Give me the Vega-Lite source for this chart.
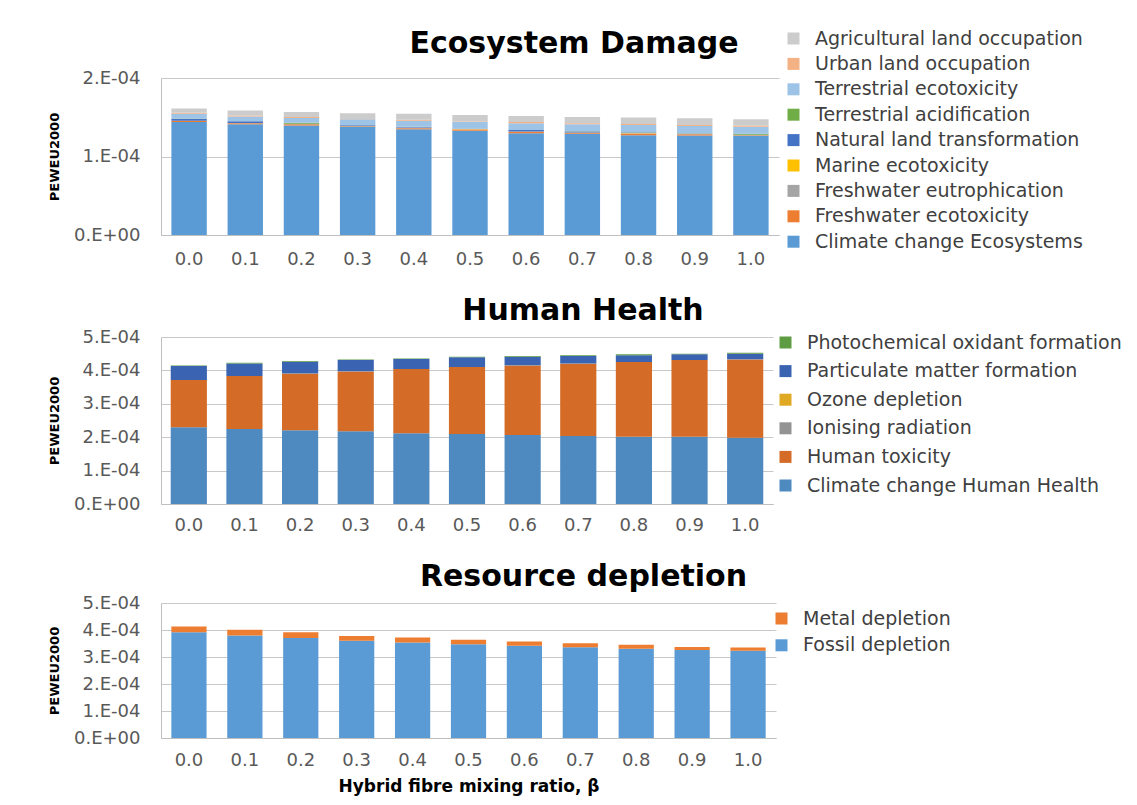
{
  "$schema": "https://vega.github.io/schema/vega-lite/v6.json",
  "background": "white",
  "padding": {"left": 48, "top": 29, "right": 5, "bottom": 5},
  "config": {
    "font": "DejaVu Sans",
    "view": {"stroke": null},
    "axis": {"labelFont": "DejaVu Sans", "labelFontSize": 18, "labelColor": "#595959", "gridColor": "#C8C8C8", "domainColor": "#BFBFBF", "ticks": false, "titleFont": "DejaVu Sans", "titleFontWeight": "bold", "titleColor": "#000000"},
    "legend": {"labelFont": "DejaVu Sans", "labelFontSize": 19, "labelColor": "#404040", "symbolType": "square", "symbolSize": 144, "symbolStrokeWidth": 0, "labelOffset": 12, "padding": 0, "title": null, "labelLimit": 400},
    "title": {"font": "DejaVu Sans", "fontSize": 30, "fontWeight": "bold", "color": "#000000", "anchor": "middle"}
  },
  "datasets": {
    "eco": [
      {"b":"0.0","c":"Climate change Ecosystems","o":1,"v":1.441e-4},{"b":"0.0","c":"Freshwater ecotoxicity","o":2,"v":0.013e-4},{"b":"0.0","c":"Freshwater eutrophication","o":3,"v":0.002e-4},{"b":"0.0","c":"Marine ecotoxicity","o":4,"v":0.001e-4},{"b":"0.0","c":"Natural land transformation","o":5,"v":0.025e-4},{"b":"0.0","c":"Terrestrial acidification","o":6,"v":0.002e-4},{"b":"0.0","c":"Terrestrial ecotoxicity","o":7,"v":0.059e-4},{"b":"0.0","c":"Urban land occupation","o":8,"v":0.013e-4},{"b":"0.0","c":"Agricultural land occupation","o":9,"v":0.055e-4},
      {"b":"0.1","c":"Climate change Ecosystems","o":1,"v":1.411e-4},{"b":"0.1","c":"Freshwater ecotoxicity","o":2,"v":0.013e-4},{"b":"0.1","c":"Freshwater eutrophication","o":3,"v":0.002e-4},{"b":"0.1","c":"Marine ecotoxicity","o":4,"v":0.001e-4},{"b":"0.1","c":"Natural land transformation","o":5,"v":0.021e-4},{"b":"0.1","c":"Terrestrial acidification","o":6,"v":0.002e-4},{"b":"0.1","c":"Terrestrial ecotoxicity","o":7,"v":0.059e-4},{"b":"0.1","c":"Urban land occupation","o":8,"v":0.013e-4},{"b":"0.1","c":"Agricultural land occupation","o":9,"v":0.063e-4},
      {"b":"0.2","c":"Climate change Ecosystems","o":1,"v":1.394e-4},{"b":"0.2","c":"Freshwater ecotoxicity","o":2,"v":0.017e-4},{"b":"0.2","c":"Freshwater eutrophication","o":3,"v":0.002e-4},{"b":"0.2","c":"Marine ecotoxicity","o":4,"v":0.001e-4},{"b":"0.2","c":"Natural land transformation","o":5,"v":0.004e-4},{"b":"0.2","c":"Terrestrial acidification","o":6,"v":0.013e-4},{"b":"0.2","c":"Terrestrial ecotoxicity","o":7,"v":0.059e-4},{"b":"0.2","c":"Urban land occupation","o":8,"v":0.013e-4},{"b":"0.2","c":"Agricultural land occupation","o":9,"v":0.063e-4},
      {"b":"0.3","c":"Climate change Ecosystems","o":1,"v":1.377e-4},{"b":"0.3","c":"Freshwater ecotoxicity","o":2,"v":0.004e-4},{"b":"0.3","c":"Freshwater eutrophication","o":3,"v":0.002e-4},{"b":"0.3","c":"Marine ecotoxicity","o":4,"v":0.001e-4},{"b":"0.3","c":"Natural land transformation","o":5,"v":0.013e-4},{"b":"0.3","c":"Terrestrial acidification","o":6,"v":0.002e-4},{"b":"0.3","c":"Terrestrial ecotoxicity","o":7,"v":0.076e-4},{"b":"0.3","c":"Urban land occupation","o":8,"v":0.004e-4},{"b":"0.3","c":"Agricultural land occupation","o":9,"v":0.072e-4},
      {"b":"0.4","c":"Climate change Ecosystems","o":1,"v":1.348e-4},{"b":"0.4","c":"Freshwater ecotoxicity","o":2,"v":0.013e-4},{"b":"0.4","c":"Freshwater eutrophication","o":3,"v":0.008e-4},{"b":"0.4","c":"Marine ecotoxicity","o":4,"v":0.001e-4},{"b":"0.4","c":"Natural land transformation","o":5,"v":0.006e-4},{"b":"0.4","c":"Terrestrial acidification","o":6,"v":0.002e-4},{"b":"0.4","c":"Terrestrial ecotoxicity","o":7,"v":0.076e-4},{"b":"0.4","c":"Urban land occupation","o":8,"v":0.013e-4},{"b":"0.4","c":"Agricultural land occupation","o":9,"v":0.076e-4},
      {"b":"0.5","c":"Climate change Ecosystems","o":1,"v":1.327e-4},{"b":"0.5","c":"Freshwater ecotoxicity","o":2,"v":0.017e-4},{"b":"0.5","c":"Freshwater eutrophication","o":3,"v":0.004e-4},{"b":"0.5","c":"Marine ecotoxicity","o":4,"v":0.001e-4},{"b":"0.5","c":"Natural land transformation","o":5,"v":0.004e-4},{"b":"0.5","c":"Terrestrial acidification","o":6,"v":0.002e-4},{"b":"0.5","c":"Terrestrial ecotoxicity","o":7,"v":0.089e-4},{"b":"0.5","c":"Urban land occupation","o":8,"v":0.004e-4},{"b":"0.5","c":"Agricultural land occupation","o":9,"v":0.080e-4},
      {"b":"0.6","c":"Climate change Ecosystems","o":1,"v":1.297e-4},{"b":"0.6","c":"Freshwater ecotoxicity","o":2,"v":0.017e-4},{"b":"0.6","c":"Freshwater eutrophication","o":3,"v":0.004e-4},{"b":"0.6","c":"Marine ecotoxicity","o":4,"v":0.001e-4},{"b":"0.6","c":"Natural land transformation","o":5,"v":0.017e-4},{"b":"0.6","c":"Terrestrial acidification","o":6,"v":0.002e-4},{"b":"0.6","c":"Terrestrial ecotoxicity","o":7,"v":0.084e-4},{"b":"0.6","c":"Urban land occupation","o":8,"v":0.017e-4},{"b":"0.6","c":"Agricultural land occupation","o":9,"v":0.076e-4},
      {"b":"0.7","c":"Climate change Ecosystems","o":1,"v":1.289e-4},{"b":"0.7","c":"Freshwater ecotoxicity","o":2,"v":0.013e-4},{"b":"0.7","c":"Freshwater eutrophication","o":3,"v":0.004e-4},{"b":"0.7","c":"Marine ecotoxicity","o":4,"v":0.001e-4},{"b":"0.7","c":"Natural land transformation","o":5,"v":0.013e-4},{"b":"0.7","c":"Terrestrial acidification","o":6,"v":0.002e-4},{"b":"0.7","c":"Terrestrial ecotoxicity","o":7,"v":0.089e-4},{"b":"0.7","c":"Urban land occupation","o":8,"v":0.013e-4},{"b":"0.7","c":"Agricultural land occupation","o":9,"v":0.080e-4},
      {"b":"0.8","c":"Climate change Ecosystems","o":1,"v":1.272e-4},{"b":"0.8","c":"Freshwater ecotoxicity","o":2,"v":0.017e-4},{"b":"0.8","c":"Freshwater eutrophication","o":3,"v":0.008e-4},{"b":"0.8","c":"Marine ecotoxicity","o":4,"v":0.001e-4},{"b":"0.8","c":"Natural land transformation","o":5,"v":0.008e-4},{"b":"0.8","c":"Terrestrial acidification","o":6,"v":0.002e-4},{"b":"0.8","c":"Terrestrial ecotoxicity","o":7,"v":0.093e-4},{"b":"0.8","c":"Urban land occupation","o":8,"v":0.013e-4},{"b":"0.8","c":"Agricultural land occupation","o":9,"v":0.084e-4},
      {"b":"0.9","c":"Climate change Ecosystems","o":1,"v":1.268e-4},{"b":"0.9","c":"Freshwater ecotoxicity","o":2,"v":0.017e-4},{"b":"0.9","c":"Freshwater eutrophication","o":3,"v":0.004e-4},{"b":"0.9","c":"Marine ecotoxicity","o":4,"v":0.001e-4},{"b":"0.9","c":"Natural land transformation","o":5,"v":0.004e-4},{"b":"0.9","c":"Terrestrial acidification","o":6,"v":0.002e-4},{"b":"0.9","c":"Terrestrial ecotoxicity","o":7,"v":0.093e-4},{"b":"0.9","c":"Urban land occupation","o":8,"v":0.013e-4},{"b":"0.9","c":"Agricultural land occupation","o":9,"v":0.084e-4},
      {"b":"1.0","c":"Climate change Ecosystems","o":1,"v":1.263e-4},{"b":"1.0","c":"Freshwater ecotoxicity","o":2,"v":0.008e-4},{"b":"1.0","c":"Freshwater eutrophication","o":3,"v":0.002e-4},{"b":"1.0","c":"Marine ecotoxicity","o":4,"v":0.001e-4},{"b":"1.0","c":"Natural land transformation","o":5,"v":0.002e-4},{"b":"1.0","c":"Terrestrial acidification","o":6,"v":0.013e-4},{"b":"1.0","c":"Terrestrial ecotoxicity","o":7,"v":0.089e-4},{"b":"1.0","c":"Urban land occupation","o":8,"v":0.017e-4},{"b":"1.0","c":"Agricultural land occupation","o":9,"v":0.080e-4}
    ],
    "hh": [
      {"b":"0.0","c":"Climate change Human Health","o":1,"v":2.295e-4},{"b":"0.0","c":"Human toxicity","o":2,"v":1.415e-4},{"b":"0.0","c":"Ionising radiation","o":3,"v":0.003e-4},{"b":"0.0","c":"Ozone depletion","o":4,"v":0.001e-4},{"b":"0.0","c":"Particulate matter formation","o":5,"v":0.416e-4},{"b":"0.0","c":"Photochemical oxidant formation","o":6,"v":0.02e-4},
      {"b":"0.1","c":"Climate change Human Health","o":1,"v":2.245e-4},{"b":"0.1","c":"Human toxicity","o":2,"v":1.585e-4},{"b":"0.1","c":"Ionising radiation","o":3,"v":0.003e-4},{"b":"0.1","c":"Ozone depletion","o":4,"v":0.001e-4},{"b":"0.1","c":"Particulate matter formation","o":5,"v":0.376e-4},{"b":"0.1","c":"Photochemical oxidant formation","o":6,"v":0.02e-4},
      {"b":"0.2","c":"Climate change Human Health","o":1,"v":2.205e-4},{"b":"0.2","c":"Human toxicity","o":2,"v":1.695e-4},{"b":"0.2","c":"Ionising radiation","o":3,"v":0.003e-4},{"b":"0.2","c":"Ozone depletion","o":4,"v":0.001e-4},{"b":"0.2","c":"Particulate matter formation","o":5,"v":0.356e-4},{"b":"0.2","c":"Photochemical oxidant formation","o":6,"v":0.02e-4},
      {"b":"0.3","c":"Climate change Human Health","o":1,"v":2.175e-4},{"b":"0.3","c":"Human toxicity","o":2,"v":1.795e-4},{"b":"0.3","c":"Ionising radiation","o":3,"v":0.003e-4},{"b":"0.3","c":"Ozone depletion","o":4,"v":0.001e-4},{"b":"0.3","c":"Particulate matter formation","o":5,"v":0.336e-4},{"b":"0.3","c":"Photochemical oxidant formation","o":6,"v":0.02e-4},
      {"b":"0.4","c":"Climate change Human Health","o":1,"v":2.115e-4},{"b":"0.4","c":"Human toxicity","o":2,"v":1.925e-4},{"b":"0.4","c":"Ionising radiation","o":3,"v":0.003e-4},{"b":"0.4","c":"Ozone depletion","o":4,"v":0.001e-4},{"b":"0.4","c":"Particulate matter formation","o":5,"v":0.296e-4},{"b":"0.4","c":"Photochemical oxidant formation","o":6,"v":0.02e-4},
      {"b":"0.5","c":"Climate change Human Health","o":1,"v":2.095e-4},{"b":"0.5","c":"Human toxicity","o":2,"v":2.005e-4},{"b":"0.5","c":"Ionising radiation","o":3,"v":0.003e-4},{"b":"0.5","c":"Ozone depletion","o":4,"v":0.001e-4},{"b":"0.5","c":"Particulate matter formation","o":5,"v":0.286e-4},{"b":"0.5","c":"Photochemical oxidant formation","o":6,"v":0.02e-4},
      {"b":"0.6","c":"Climate change Human Health","o":1,"v":2.065e-4},{"b":"0.6","c":"Human toxicity","o":2,"v":2.085e-4},{"b":"0.6","c":"Ionising radiation","o":3,"v":0.003e-4},{"b":"0.6","c":"Ozone depletion","o":4,"v":0.001e-4},{"b":"0.6","c":"Particulate matter formation","o":5,"v":0.256e-4},{"b":"0.6","c":"Photochemical oxidant formation","o":6,"v":0.02e-4},
      {"b":"0.7","c":"Climate change Human Health","o":1,"v":2.035e-4},{"b":"0.7","c":"Human toxicity","o":2,"v":2.165e-4},{"b":"0.7","c":"Ionising radiation","o":3,"v":0.003e-4},{"b":"0.7","c":"Ozone depletion","o":4,"v":0.001e-4},{"b":"0.7","c":"Particulate matter formation","o":5,"v":0.226e-4},{"b":"0.7","c":"Photochemical oxidant formation","o":6,"v":0.02e-4},
      {"b":"0.8","c":"Climate change Human Health","o":1,"v":2.015e-4},{"b":"0.8","c":"Human toxicity","o":2,"v":2.235e-4},{"b":"0.8","c":"Ionising radiation","o":3,"v":0.003e-4},{"b":"0.8","c":"Ozone depletion","o":4,"v":0.001e-4},{"b":"0.8","c":"Particulate matter formation","o":5,"v":0.196e-4},{"b":"0.8","c":"Photochemical oxidant formation","o":6,"v":0.03e-4},
      {"b":"0.9","c":"Climate change Human Health","o":1,"v":2.015e-4},{"b":"0.9","c":"Human toxicity","o":2,"v":2.295e-4},{"b":"0.9","c":"Ionising radiation","o":3,"v":0.003e-4},{"b":"0.9","c":"Ozone depletion","o":4,"v":0.001e-4},{"b":"0.9","c":"Particulate matter formation","o":5,"v":0.166e-4},{"b":"0.9","c":"Photochemical oxidant formation","o":6,"v":0.02e-4},
      {"b":"1.0","c":"Climate change Human Health","o":1,"v":1.985e-4},{"b":"1.0","c":"Human toxicity","o":2,"v":2.345e-4},{"b":"1.0","c":"Ionising radiation","o":3,"v":0.003e-4},{"b":"1.0","c":"Ozone depletion","o":4,"v":0.001e-4},{"b":"1.0","c":"Particulate matter formation","o":5,"v":0.166e-4},{"b":"1.0","c":"Photochemical oxidant formation","o":6,"v":0.03e-4}
    ],
    "res": [
      {"b":"0.0","c":"Fossil depletion","o":1,"v":3.92e-4},{"b":"0.0","c":"Metal depletion","o":2,"v":0.21e-4},
      {"b":"0.1","c":"Fossil depletion","o":1,"v":3.80e-4},{"b":"0.1","c":"Metal depletion","o":2,"v":0.21e-4},
      {"b":"0.2","c":"Fossil depletion","o":1,"v":3.70e-4},{"b":"0.2","c":"Metal depletion","o":2,"v":0.22e-4},
      {"b":"0.3","c":"Fossil depletion","o":1,"v":3.60e-4},{"b":"0.3","c":"Metal depletion","o":2,"v":0.18e-4},
      {"b":"0.4","c":"Fossil depletion","o":1,"v":3.54e-4},{"b":"0.4","c":"Metal depletion","o":2,"v":0.18e-4},
      {"b":"0.5","c":"Fossil depletion","o":1,"v":3.47e-4},{"b":"0.5","c":"Metal depletion","o":2,"v":0.17e-4},
      {"b":"0.6","c":"Fossil depletion","o":1,"v":3.42e-4},{"b":"0.6","c":"Metal depletion","o":2,"v":0.15e-4},
      {"b":"0.7","c":"Fossil depletion","o":1,"v":3.36e-4},{"b":"0.7","c":"Metal depletion","o":2,"v":0.15e-4},
      {"b":"0.8","c":"Fossil depletion","o":1,"v":3.31e-4},{"b":"0.8","c":"Metal depletion","o":2,"v":0.14e-4},
      {"b":"0.9","c":"Fossil depletion","o":1,"v":3.26e-4},{"b":"0.9","c":"Metal depletion","o":2,"v":0.11e-4},
      {"b":"1.0","c":"Fossil depletion","o":1,"v":3.23e-4},{"b":"1.0","c":"Metal depletion","o":2,"v":0.12e-4}
    ]
  },
  "spacing": 28,
  "resolve": {"scale": {"color": "independent", "x": "independent", "y": "independent"}, "legend": {"color": "independent"}},
  "vconcat": [
    {
      "data": {"name": "eco"},
      "width": 618,
      "height": 157,
      "title": {"text": "Ecosystem Damage", "dx": 104, "dy": 34},
      "mark": {"type": "bar"},
      "encoding": {
        "x": {"field": "b", "type": "nominal", "sort": null, "scale": {"paddingInner": 0.37, "paddingOuter": 0.185}, "axis": {"title": null, "labelAngle": 0, "labelPadding": 15, "grid": false}},
        "y": {"field": "v", "type": "quantitative", "stack": "zero", "scale": {"domain": [0, 0.0002], "nice": false}, "axis": {"values": [0, 0.0001, 0.0002], "title": "PEWEU2000", "titleFontSize": 13, "titlePadding": 12, "labelPadding": 21, "labelExpr": "datum.value == 0 ? '0.E+00' : round(datum.value*10000) + '.E-04'"}},
        "order": {"field": "o", "type": "quantitative", "sort": "ascending"},
        "color": {"field": "c", "type": "nominal", "scale": {"domain": ["Agricultural land occupation", "Urban land occupation", "Terrestrial ecotoxicity", "Terrestrial acidification", "Natural land transformation", "Marine ecotoxicity", "Freshwater eutrophication", "Freshwater ecotoxicity", "Climate change Ecosystems"], "range": ["#CCCCCC", "#F4B183", "#9DC3E6", "#70AD47", "#4472C4", "#FFC000", "#A5A5A5", "#ED7D31", "#5B9BD5"]}, "legend": {"orient": "none", "legendX": 623, "legendY": -49, "rowPadding": 5.4}}
      }
    },
    {
      "data": {"name": "hh"},
      "width": 612,
      "height": 167,
      "title": {"text": "Human Health", "dx": 116, "dy": 2},
      "mark": {"type": "bar"},
      "encoding": {
        "x": {"field": "b", "type": "nominal", "sort": null, "scale": {"paddingInner": 0.35, "paddingOuter": 0.175}, "axis": {"title": null, "labelAngle": 0, "labelPadding": 12, "grid": false}},
        "y": {"field": "v", "type": "quantitative", "stack": "zero", "scale": {"domain": [0, 0.0005], "nice": false}, "axis": {"values": [0, 0.0001, 0.0002, 0.0003, 0.0004, 0.0005], "title": "PEWEU2000", "titleFontSize": 13, "titlePadding": 12, "labelPadding": 21, "labelExpr": "datum.value == 0 ? '0.E+00' : round(datum.value*10000) + '.E-04'"}},
        "order": {"field": "o", "type": "quantitative", "sort": "ascending"},
        "color": {"field": "c", "type": "nominal", "scale": {"domain": ["Photochemical oxidant formation", "Particulate matter formation", "Ozone depletion", "Ionising radiation", "Human toxicity", "Climate change Human Health"], "range": ["#5E9C44", "#3A64B2", "#E0A923", "#939393", "#D46B27", "#4E89C0"]}, "legend": {"orient": "none", "legendX": 615, "legendY": -4, "rowPadding": 8.6}}
      }
    },
    {
      "data": {"name": "res"},
      "width": 615,
      "height": 135,
      "title": {"text": "Resource depletion", "dx": 115, "dy": 2},
      "mark": {"type": "bar"},
      "encoding": {
        "x": {"field": "b", "type": "nominal", "sort": null, "scale": {"paddingInner": 0.37, "paddingOuter": 0.185}, "axis": {"title": "Hybrid fibre mixing ratio, β", "titleFontSize": 17, "titlePadding": 9, "labelAngle": 0, "labelPadding": 13, "grid": false}},
        "y": {"field": "v", "type": "quantitative", "stack": "zero", "scale": {"domain": [0, 0.0005], "nice": false}, "axis": {"values": [0, 0.0001, 0.0002, 0.0003, 0.0004, 0.0005], "title": "PEWEU2000", "titleFontSize": 13, "titlePadding": 12, "labelPadding": 21, "labelExpr": "datum.value == 0 ? '0.E+00' : round(datum.value*10000) + '.E-04'"}},
        "order": {"field": "o", "type": "quantitative", "sort": "ascending"},
        "color": {"field": "c", "type": "nominal", "scale": {"domain": ["Metal depletion", "Fossil depletion"], "range": ["#ED7D31", "#5B9BD5"]}, "legend": {"orient": "none", "legendX": 611, "legendY": 6, "rowPadding": 6.8}}
      }
    }
  ]
}
